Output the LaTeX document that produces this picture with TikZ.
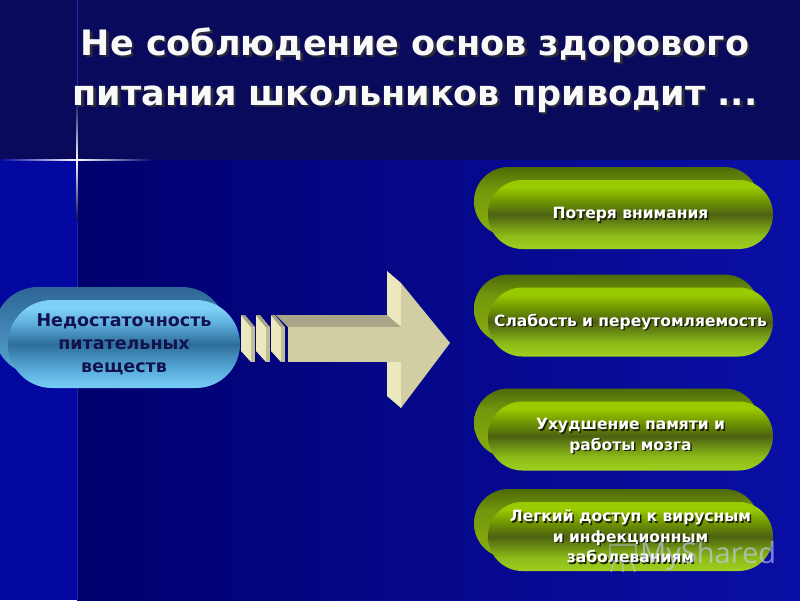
\documentclass[tikz,border=0pt]{standalone}
\usepackage{fontspec}
\setmainfont{DejaVu Sans}
\newfontfamily\markfont{Open Sans}
\usetikzlibrary{positioning}

\definecolor{topnavy}{HTML}{0A0A5C}
\definecolor{leftblue}{HTML}{0308A0}
\definecolor{deepnavy}{HTML}{00006E}
\definecolor{brightnavy}{HTML}{0A10A6}
\definecolor{flareblue}{HTML}{3A5CFF}
\definecolor{creamside}{HTML}{ECE8BE}
\definecolor{creamfront}{HTML}{D2CEA4}
\definecolor{creamtop}{HTML}{A8A588}
\definecolor{pilltext}{HTML}{12124E}
\definecolor{pillshade}{HTML}{1E2600}
\definecolor{titleshade}{HTML}{2A2A3A}
% green pill tones
\definecolor{gbottom}{HTML}{A0D020}
\definecolor{glow}{HTML}{8CBA18}
\definecolor{gdark}{HTML}{4C6210}
\definecolor{gup}{HTML}{78A000}
\definecolor{gtop}{HTML}{9ACB00}
\definecolor{gbackbottom}{HTML}{8AB010}
\definecolor{gbackmid}{HTML}{74960C}
\definecolor{gbacktop}{HTML}{4E6A08}
% blue pill tones
\definecolor{bbottom}{HTML}{78CCF5}
\definecolor{blow}{HTML}{5AAEDD}
\definecolor{bdark}{HTML}{2E6E9A}
\definecolor{bup}{HTML}{5FB0DE}
\definecolor{btop}{HTML}{7ED0F6}
\definecolor{bbackbottom}{HTML}{56A6D6}
\definecolor{bbacktop}{HTML}{2E6694}

\pgfdeclareverticalshading{gfront}{100bp}{color(0bp)=(gbottom); color(25bp)=(gbottom);
  color(35bp)=(glow); color(50bp)=(gdark); color(62bp)=(gup);
  color(70bp)=(gtop); color(100bp)=(gtop)}
\pgfdeclareverticalshading{gback}{100bp}{color(0bp)=(gbackbottom); color(25bp)=(gbackbottom);
  color(60bp)=(gbackmid); color(75bp)=(gbacktop); color(100bp)=(gbacktop)}
\pgfdeclareverticalshading{bfront}{100bp}{color(0bp)=(bbottom); color(25bp)=(bbottom);
  color(35bp)=(blow); color(50bp)=(bdark); color(62bp)=(bup);
  color(70bp)=(btop); color(100bp)=(btop)}
\pgfdeclareverticalshading{bback}{100bp}{color(0bp)=(bbackbottom); color(25bp)=(bbackbottom);
  color(75bp)=(bbacktop); color(100bp)=(bbacktop)}

\begin{document}
\begin{tikzpicture}[x=1pt, y=-1pt,
    greenback/.style={rounded corners=34.5pt, minimum width=285pt, minimum height=69pt, inner sep=0pt, shading=gback},
    greenface/.style={rounded corners=34.5pt, minimum width=285pt, minimum height=69pt, inner sep=0pt, shading=gfront},
    pillword/.style={text=white, align=center, inner sep=0pt, font=\bfseries\fontsize{15.5}{20.5}\selectfont},
    pillshadow/.style={pillword, text=pillshade},
    blueback/.style={rounded corners=44pt, minimum width=232pt, minimum height=88pt, inner sep=0pt, shading=bback},
    blueface/.style={rounded corners=44pt, minimum width=232pt, minimum height=88pt, inner sep=0pt, shading=bfront,
      text=pilltext, align=center, font=\bfseries\fontsize{17.5}{23}\selectfont},
    headword/.style={text=white!95!gray, align=center, inner sep=0pt, font=\bfseries\fontsize{35}{50}\selectfont},
    headshadow/.style={headword, text=titleshade}]
  \useasboundingbox (0,0) rectangle (800,600);
  % background
  \fill[topnavy] (0,0) rectangle (800,160);
  \fill[leftblue] (0,160) rectangle (77,600);
  \shade[left color=deepnavy, right color=brightnavy] (77,160) rectangle (800,600);
  % flare
  \fill[flareblue, opacity=0.45] (76.5,0) rectangle (77.5,600);
  \shade[top color=topnavy, bottom color=topnavy, middle color=white] (76.3,100) rectangle (77.7,220);
  \shade[left color=leftblue, right color=deepnavy, middle color=white] (0,159.3) rectangle (154,160.7);

  % title
  \node[headshadow] (headshade) at (417.5,72.5) {Не соблюдение основ здорового\\питания школьников приводит ...};
  \node[headword] (head) at (415,70) {Не соблюдение основ здорового\\питания школьников приводит ...};

  % left pill
  \node[blueback] (lackback) at (110,331) {};
  \node[blueface] (lack) at (124,344) {Недостаточность\\питательных\\веществ};

  % arrow
  \fill[creamside] (387,271) -- (401,283) -- (401,408) -- (387,396) -- cycle;
  \fill[creamfront] (401,283) -- (450,343) -- (401,408) -- cycle;
  \fill[creamtop] (276,315) -- (387,315) -- (401,327) -- (288,327) -- cycle;
  \fill[creamfront] (288,327) rectangle (401,362);
  % tail slabs
  \fill[creamside] (271,315) -- (281,327) -- (281,362) -- (271,351) -- cycle;
  \fill[creamtop] (271,315) -- (275,315) -- (285,327) -- (281,327) -- cycle;
  \fill[creamfront!92!black] (281,327) rectangle (285,362);
  \fill[creamside] (256,315) -- (266,327) -- (266,362) -- (256,351) -- cycle;
  \fill[creamtop] (256,315) -- (260,315) -- (270,327) -- (266,327) -- cycle;
  \fill[creamfront!92!black] (266,327) rectangle (270,362);
  \fill[creamside] (241,315) -- (251,327) -- (251,362) -- (241,351) -- cycle;
  \fill[creamtop] (241,315) -- (245,315) -- (255,327) -- (251,327) -- cycle;
  \fill[creamfront!92!black] (251,327) rectangle (255,362);

  % right pills
  \node[greenback] (lossback) at (616.5,201.5) {};
  \node[greenface] (loss) at (630.5,214.5) {};
  \node[pillshadow] (lossshade) at ([shift={(1.5,1.5)}]loss.center) {Потеря внимания};
  \node[pillword] (losstext) at (loss.center) {Потеря внимания};

  \node[greenback] (weakback) at (616.5,309) {};
  \node[greenface] (weak) at (630.5,322) {};
  \node[pillshadow] (weakshade) at ([shift={(1.5,1.5)}]weak.center) {Слабость и переутомляемость};
  \node[pillword] (weaktext) at (weak.center) {Слабость и переутомляемость};

  \node[greenback] (memoryback) at (616.5,423) {};
  \node[greenface] (memory) at (630.5,436) {};
  \node[pillshadow] (memoryshade) at ([shift={(1.5,1.5)}]memory.center) {Ухудшение памяти и\\работы мозга};
  \node[pillword] (memorytext) at (memory.center) {Ухудшение памяти и\\работы мозга};

  \node[greenback] (virusback) at (616.5,523.5) {};
  \node[greenface] (virus) at (630.5,536.5) {};
  \node[pillshadow] (virusshade) at ([shift={(1.5,1.5)}]virus.center) {Легкий доступ к вирусным\\и инфекционным\\заболеваниям};
  \node[pillword] (virustext) at (virus.center) {Легкий доступ к вирусным\\и инфекционным\\заболеваниям};

  % watermark
  \draw[white!80!blue, opacity=0.6, line width=1.2pt] (610,545) rectangle (636,561)
    (614,561) -- (611,572) (632,561) -- (635,572) (623,561) -- (623,572);
  \node[text=white!80!blue, opacity=0.6, font=\markfont\fontsize{29}{30}\selectfont, inner sep=0pt, anchor=west] (mark) at (640,556) {MyShared};
\end{tikzpicture}
\end{document}
